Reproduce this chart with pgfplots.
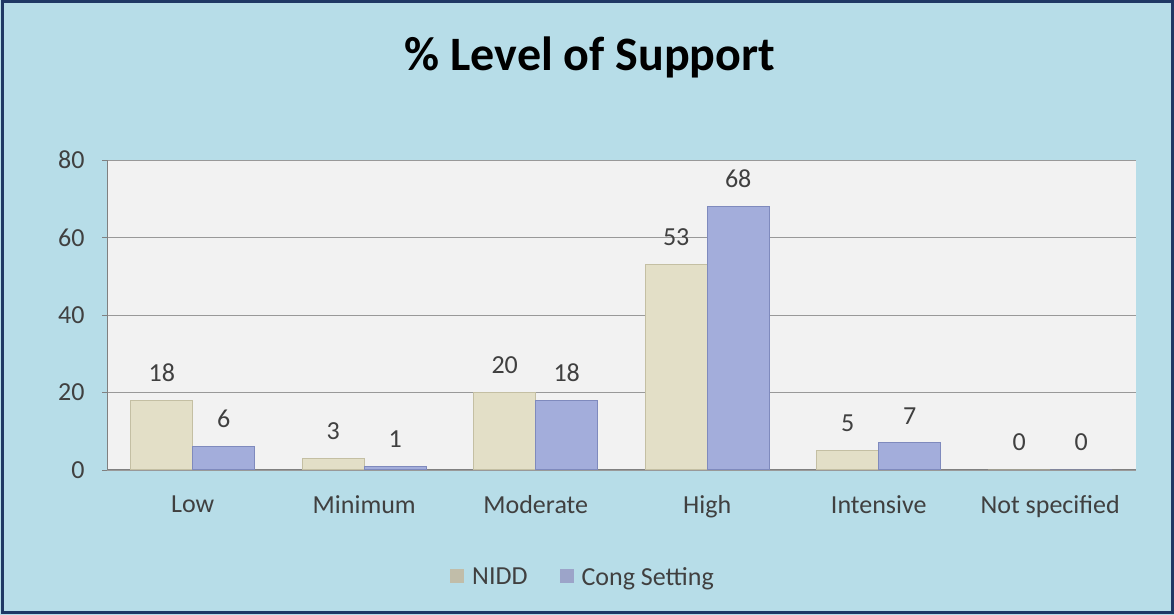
\documentclass[border=0pt]{standalone}
\usepackage{pgfplots}
\pgfplotsset{compat=1.18}
\usepackage{fontspec}
\setmainfont{Carlito}
\definecolor{bgblue}{HTML}{B7DDE8}
\definecolor{navy}{HTML}{1F3864}
\definecolor{plotbg}{HTML}{F2F2F2}
\definecolor{nidd}{HTML}{E3DFC7}
\definecolor{niddD}{HTML}{C4BFA3}
\definecolor{cong}{HTML}{A3ADDB}
\definecolor{congD}{HTML}{7F8ABD}
\definecolor{txt}{HTML}{404040}
\begin{document}
\begin{tikzpicture}[x=1pt,y=1pt]
\fill[bgblue] (0,0) rectangle (1174,615);
\draw[navy,line width=3pt] (2,2) rectangle (1172,613);
\node[font=\fontsize{48}{54}\selectfont\bfseries, text=black] at (590,558) {\% Level of Support};
\begin{axis}[
  at={(107pt,145pt)}, anchor=south west,
  scale only axis, width=1029pt, height=310pt,
  xmin=-0.5, xmax=5.5, ymin=0, ymax=80,
  ytick={0,20,40,60,80},
  xtick={0,1,2,3,4,5},
  xticklabels={Low,Minimum,Moderate,High,Intensive,Not specified},
  major x tick style={draw=none},
  major y tick style={draw=gray, line width=0.8pt},
  tick align=outside, major tick length=5pt,
  ymajorgrids, grid style={draw=gray!80, line width=0.8pt},
  axis background/.style={fill=plotbg},
  axis line style={draw=gray, line width=1pt},
  axis x line*=bottom, axis y line*=left,
  ticklabel style={font=\fontsize{26}{30}\selectfont, text=txt},
  /pgf/number format/assume math mode=true,
  xticklabel style={yshift=-17pt},
  yticklabel style={xshift=-14pt},
  ybar, bar width=62pt,
  nodes near coords,
  nodes near coords style={font=\fontsize{26}{30}\selectfont, text=txt, anchor=south, yshift=15pt},
  legend style={at={(0.4626,-0.345)}, anchor=center, draw=none, fill=none,
    font=\fontsize{26}{30}\selectfont, text=txt, legend columns=2,
    /tikz/every odd column/.append style={column sep=6pt},
    /tikz/every even column/.append style={column sep=30pt}},
]
\addplot[fill=nidd, draw=niddD, line width=1pt, bar shift=-31pt,
  legend image code/.code={\fill[nidd!85!black] (-6pt,-6pt) rectangle (7pt,7pt);}] coordinates {(0,18) (1,3) (2,20) (3,53) (4,5) (5,0)};
\addplot[fill=cong, draw=congD, line width=1pt, bar shift=31pt,
  legend image code/.code={\fill[cong!80!gray] (-6pt,-6pt) rectangle (7pt,7pt);}] coordinates {(0,6) (1,1) (2,18) (3,68) (4,7) (5,0)};
\legend{NIDD, Cong Setting}
\end{axis}
\end{tikzpicture}
\end{document}
